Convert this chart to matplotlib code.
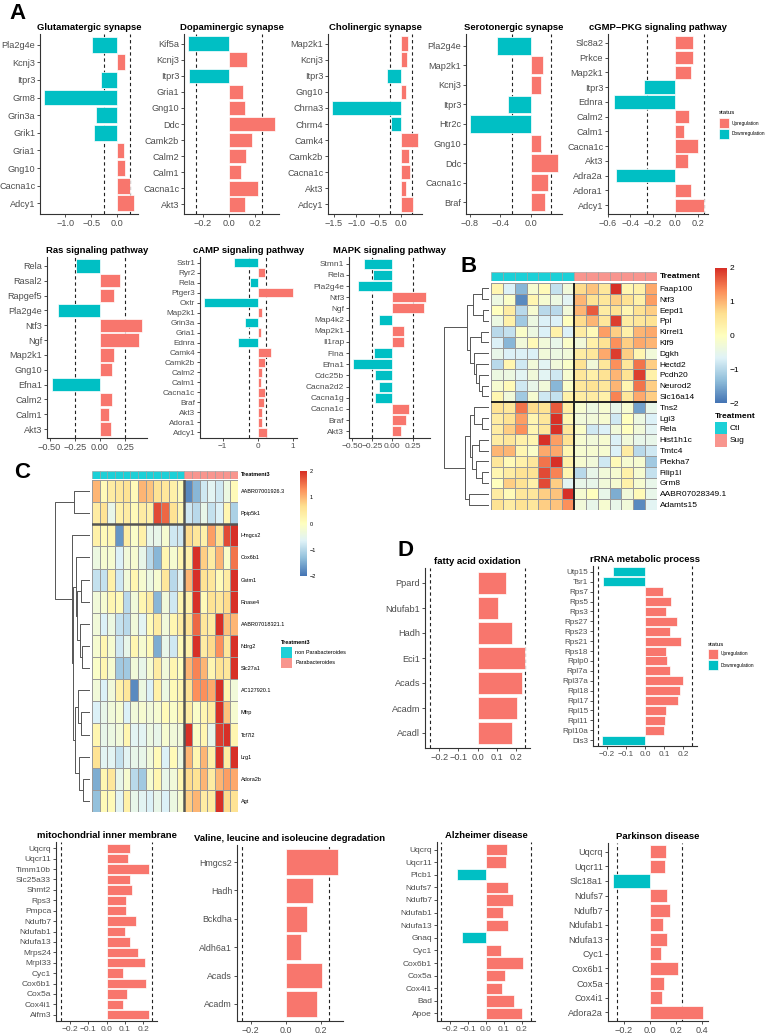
import numpy as np
import matplotlib
matplotlib.use('Agg')
import matplotlib.pyplot as plt
from matplotlib.colors import LinearSegmentedColormap
from matplotlib.patches import Rectangle

plt.rcParams['font.family'] = ['Liberation Sans', 'DejaVu Sans']

W, H = 772, 1035
UP = '#F8766D'
DOWN = '#00BFC4'
CTL = '#1CD0D7'
SUG = '#F8958E'
HM_CMAP = LinearSegmentedColormap.from_list(
    'rdylbu', ['#4575B4', '#91BFDB', '#E0F3F8', '#FFFFBF', '#FEE090', '#FC8D59', '#D73027'])

# ---------------- data: bar panels (genes top to bottom) ----------------
glut_genes = ['Pla2g4e', 'Kcnj3', 'Itpr3', 'Grm8', 'Grin3a', 'Grik1', 'Gria1', 'Gng10', 'Cacna1c', 'Adcy1']
glut_vals = [-0.48, 0.15, -0.32, -1.40, -0.41, -0.45, 0.12, 0.14, 0.24, 0.31]
glut_ticks = [-1.0, -0.5, 0.0]

dopa_genes = ['Kif5a', 'Kcnj3', 'Itpr3', 'Gria1', 'Gng10', 'Ddc', 'Camk2b', 'Calm2', 'Calm1', 'Cacna1c', 'Akt3']
dopa_vals = [-0.31, 0.14, -0.305, 0.11, 0.125, 0.35, 0.175, 0.13, 0.09, 0.22, 0.12]
dopa_ticks = [-0.2, 0.0, 0.2]

chol_genes = ['Map2k1', 'Kcnj3', 'Itpr3', 'Gng10', 'Chrna3', 'Chrm4', 'Camk4', 'Camk2b', 'Cacna1c', 'Akt3', 'Adcy1']
chol_vals = [0.16, 0.13, -0.31, 0.12, -1.54, -0.21, 0.38, 0.18, 0.21, 0.12, 0.27]
chol_ticks = [-1.5, -1.0, -0.5, 0.0]

sero_genes = ['Pla2g4e', 'Map2k1', 'Kcnj3', 'Itpr3', 'Htr2c', 'Gng10', 'Ddc', 'Cacna1c', 'Braf']
sero_vals = [-0.45, 0.15, 0.13, -0.30, -0.79, 0.12, 0.34, 0.21, 0.17]
sero_ticks = [-0.8, -0.4, 0.0]

cgmp_genes = ['Slc8a2', 'Prkce', 'Map2k1', 'Itpr3', 'Ednra', 'Calm2', 'Calm1', 'Cacna1c', 'Akt3',
              'Adra2a', 'Adora1', 'Adcy1']
cgmp_vals = [0.16, 0.16, 0.14, -0.28, -0.55, 0.12, 0.08, 0.20, 0.11, -0.53, 0.14, 0.25]
cgmp_ticks = [-0.6, -0.4, -0.2, 0.0, 0.2]

ras_genes = ['Rela', 'Rasal2', 'Rapgef5', 'Pla2g4e', 'Ntf3', 'Ngf', 'Map2k1', 'Gng10', 'Efna1', 'Calm2',
             'Calm1', 'Akt3']
ras_vals = [-0.24, 0.20, 0.14, -0.42, 0.42, 0.39, 0.14, 0.12, -0.48, 0.12, 0.09, 0.11]
ras_ticks = [-0.5, -0.25, 0.0, 0.25]

camp_genes = ['Sstr1', 'Ryr2', 'Rela', 'Ptger3', 'Oxtr', 'Map2k1', 'Grin3a', 'Gria1', 'Ednra', 'Camk4',
              'Camk2b', 'Calm2', 'Calm1', 'Cacna1c', 'Braf', 'Akt3', 'Adora1', 'Adcy1']
camp_vals = [-0.67, 0.21, -0.22, 1.0, -1.52, 0.14, -0.35, 0.11, -0.55, 0.37, 0.22, 0.13, 0.10, 0.21,
             0.17, 0.12, 0.14, 0.26]
camp_ticks = [-1, 0, 1]

mapk_genes = ['Stmn1', 'Rela', 'Pla2g4e', 'Ntf3', 'Ngf', 'Map4k2', 'Map2k1', 'Il1rap', 'Flna', 'Efna1',
              'Cdc25b', 'Cacna2d2', 'Cacna1g', 'Cacna1c', 'Braf', 'Akt3']
mapk_vals = [-0.35, -0.24, -0.43, 0.42, 0.39, -0.17, 0.145, 0.145, -0.23, -0.49, -0.21, -0.17, -0.21,
             0.21, 0.165, 0.11]
mapk_ticks = [-0.5, -0.25, 0.0, 0.25]

fatty_genes = ['Ppard', 'Ndufab1', 'Hadh', 'Eci1', 'Acads', 'Acadm', 'Acadl']
fatty_vals = [0.15, 0.105, 0.18, 0.25, 0.235, 0.205, 0.18]

rrna_genes = ['Utp15', 'Tsr1', 'Rps7', 'Rps5', 'Rps3', 'Rps27', 'Rps23', 'Rps21', 'Rps18', 'Rplp0',
              'Rpl7a', 'Rpl37a', 'Rpl18', 'Rpl17', 'Rpl15', 'Rpl11', 'Rpl10a', 'Dis3']
rrna_vals = [-0.17, -0.22, 0.097, 0.14, 0.11, 0.17, 0.133, 0.193, 0.11, 0.118, 0.133, 0.20, 0.184,
             0.174, 0.11, 0.104, 0.098, -0.226]

mito_genes = ['Uqcrq', 'Uqcr11', 'Timm10b', 'Slc25a33', 'Shmt2', 'Rps3', 'Pmpca', 'Ndufb7', 'Ndufab1',
              'Ndufa13', 'Mrps24', 'Mrpl33', 'Cyc1', 'Cox6b1', 'Cox5a', 'Cox4i1', 'Aifm3']
mito_vals = [0.126, 0.116, 0.23, 0.128, 0.137, 0.107, 0.105, 0.158, 0.10, 0.13, 0.172, 0.21, 0.088,
             0.216, 0.109, 0.091, 0.23]

val_genes = ['Hmgcs2', 'Hadh', 'Bckdha', 'Aldh6a1', 'Acads', 'Acadm']
val_vals = [0.30, 0.155, 0.12, 0.09, 0.205, 0.18]

alz_genes = ['Uqcrq', 'Uqcr11', 'Plcb1', 'Ndufs7', 'Ndufb7', 'Ndufab1', 'Ndufa13', 'Gnaq', 'Cyc1',
             'Cox6b1', 'Cox5a', 'Cox4i1', 'Bad', 'Apoe']
alz_vals = [0.119, 0.11, -0.165, 0.126, 0.153, 0.095, 0.125, -0.137, 0.084, 0.209, 0.105, 0.088,
            0.158, 0.20]

park_genes = ['Uqcrq', 'Uqcr11', 'Slc18a1', 'Ndufs7', 'Ndufb7', 'Ndufab1', 'Ndufa13', 'Cyc1', 'Cox6b1',
              'Cox5a', 'Cox4i1', 'Adora2a']
park_vals = [0.124, 0.116, -0.284, 0.134, 0.16, 0.10, 0.132, 0.088, 0.22, 0.111, 0.093, 0.413]

d_ticks = [-0.2, -0.1, 0.0, 0.1, 0.2]
d_ticks2 = [-0.2, 0.0, 0.2]
park_ticks = [-0.2, 0.0, 0.2, 0.4]

# ---------------- data: heatmap B ----------------
b_genes = ['Faap100', 'Ntf3', 'Eepd1', 'Ppl', 'Kirrel1', 'Klf9', 'Dgkh', 'Hectd2', 'Pcdh20', 'Neurod2',
           'Slc16a14', 'Tns2', 'Lgi3', 'Rela', 'Hist1h1c', 'Tmtc4', 'Plekha7', 'Filip1l', 'Grm8',
           'AABR07028349.1', 'Adamts15']
b_groups = ['Ctl'] * 7 + ['Sug'] * 7
b_values = [
    [0.2, -0.7, -1.4, -0.2, 0.1, -0.9, -0.3, 0.7, 0.9, 0.5, 2.0, 0.2, 0.3, 1.1],
    [-0.4, -0.1, -1.8, 0.2, -0.2, -0.4, -0.6, 1.0, 0.6, 0.5, 0.8, 0.6, 0.3, 1.2],
    [0.0, 0.4, -1.0, -0.2, -1.0, -1.0, -0.3, 1.0, 1.7, 0.4, 0.6, 0.2, 0.6, 0.8],
    [-0.4, 0.3, -1.2, -0.4, -0.7, -0.7, 0.0, 0.7, 1.0, 0.5, 1.9, 0.4, 0.5, 0.6],
    [-1.0, -0.9, -0.1, -0.4, -0.7, 0.3, -0.7, 0.4, 0.1, 1.2, 0.8, 0.3, 1.0, 1.1],
    [-0.7, -1.4, -0.3, 0.1, -0.3, -0.5, -0.1, -0.3, 0.3, 0.6, 1.3, 0.8, 1.1, 1.0],
    [-0.5, -0.7, -0.7, -0.7, -0.3, -0.4, -0.3, 0.4, 0.5, 1.1, 1.9, 0.8, 0.2, -0.3],
    [-1.0, 0.2, -0.8, -0.3, -0.6, -0.3, -0.1, 0.6, -0.3, 0.5, 1.3, 0.5, 1.5, 0.8],
    [-0.4, -0.4, -0.6, -0.3, -0.6, -0.8, -0.2, 0.5, 0.3, 0.6, 1.0, 0.6, 1.9, 0.3],
    [-0.2, 0.1, -0.8, -0.5, -0.3, -1.4, -0.1, 0.5, 0.6, 0.5, 1.0, 0.2, 1.5, 0.8],
    [0.2, -0.3, -1.2, -0.2, -0.8, -0.9, 0.3, 0.4, 0.4, 0.3, 1.4, 0.5, 1.1, 0.8],
    [0.6, 0.5, 1.5, 0.7, 0.6, 1.7, 0.4, -0.2, -0.4, -0.2, -0.5, -0.2, -1.6, -0.5],
    [0.4, 0.6, 1.2, 0.2, 0.5, 2.0, 0.2, -0.3, -0.3, -0.2, -0.8, 0.0, -0.4, -0.7],
    [0.4, 0.8, 1.3, 0.2, 0.5, 2.0, 0.5, -0.1, -0.8, -0.7, -0.3, 0.0, -0.3, -0.6],
    [0.4, 0.5, 0.3, 0.2, 2.0, 1.2, 0.6, -0.2, -0.3, -0.2, -0.7, -0.3, -0.5, -0.5],
    [1.0, 1.0, 0.2, -0.1, 1.1, 1.1, 0.2, -0.2, -0.2, -0.2, -0.7, 0.4, -1.0, -0.8],
    [0.5, 0.1, 0.3, 0.5, 1.5, 2.0, 0.3, -0.2, -0.3, -0.8, 0.1, -0.2, -0.2, -1.2],
    [0.2, 0.4, 0.6, 0.6, 1.8, 1.4, 0.2, -1.0, -0.5, -0.3, -0.2, 0.3, -0.2, -0.9],
    [0.0, 0.8, 0.6, 0.3, 1.8, 0.8, -0.6, -0.5, -0.5, -0.3, -0.2, 0.3, -0.2, -0.5],
    [0.4, 0.1, 0.5, 0.5, 0.8, 0.9, 2.0, -0.2, 0.0, -0.5, -1.5, -0.3, 0.1, -0.5],
    [0.6, 0.4, 0.6, 0.5, 0.8, 0.9, 1.3, -0.3, -0.5, -0.2, -0.5, -0.3, -1.8, -0.6],
]
# row dendrogram: (height, left, right), leaves are row indices
b_tree = (10,
          (5.0, (3.5, (1.5, 0, 1), (1.3, 2, 3)),
                (4.2, (1.8, 4, 5), (3.4, 6, (2.8, 7, (2.2, 8, (1.5, 9, 10)))))),
          (5.3, (4.3, (3.3, 11, (1.5, 12, 13)), (3.8, (2.2, 14, 15), (3.0, 16, (1.6, 17, 18)))),
                (4.4, 19, 20)))

# ---------------- data: heatmap C ----------------
c_genes = ['AABR07001926.3', 'Ppip5k1', 'Hmgcs2', 'Cox6b1', 'Gstm1', 'Rnase4', 'AABR07018321.1', 'Ndrg2',
           'Slc27a1', 'AC127920.1', 'Mfrp', 'Tcf7l2', 'Lrg1', 'Adora2b', 'Agt']
c_groups = ['non Parabacteroides'] * 12 + ['Parabacteroides'] * 7
c_values = [
    [1.0, 0.1, 0.4, 0.5, 0.6, 0.1, 1.0, 0.9, 0.6, 0.5, 0.3, 0.1, -1.8, -1.4, -0.8, -0.6, -0.8, -0.4, 0.1],
    [0.4, 0.6, -0.5, 0.3, 0.4, 0.1, 0.4, 0.3, 1.8, 1.6, 0.6, 0.2, -0.8, -1.0, -0.5, -0.9, -0.7, 0.2, -1.1],
    [0.3, 0.1, 0.2, -1.7, 0.4, -0.1, 0.3, -0.5, -0.5, -0.2, -0.8, -0.8, 0.7, 0.5, 0.3, 1.2, 0.6, 1.8, 2.0],
    [-0.4, -0.2, -0.2, -0.7, -0.3, -0.2, -0.5, -1.0, -1.4, 0.2, -0.2, 0.2, 0.3, 2.0, 0.8, 0.4, 1.0, -0.1, 1.5],
    [-0.9, -0.9, 0.3, -0.8, -0.3, 0.2, -0.2, -0.4, -0.2, 0.5, -1.0, -0.6, 1.0, 2.0, 0.6, 0.5, 0.1, 0.4, 2.0],
    [-0.3, -0.2, 0.2, 0.1, -1.0, -0.3, 0.2, 0.4, -1.4, -0.3, -0.8, 0.2, 0.3, 2.0, 0.1, 0.6, 0.5, 0.7, 2.0],
    [-0.3, -0.7, -0.4, -0.9, -1.0, -0.3, -0.6, 0.1, 0.4, -0.3, 0.2, 0.4, 0.6, 1.6, 0.5, 0.4, 2.0, 0.9, 1.0],
    [-0.2, 0.2, -0.2, -0.8, -0.5, 0.2, -0.2, 0.1, -1.5, -0.5, -0.8, 0.1, 0.3, 2.0, 0.4, 0.7, 1.3, 0.5, 2.0],
    [-0.1, 0.2, -0.2, -1.2, -1.2, -0.3, -0.5, -0.2, 0.4, -0.3, 0.2, 0.0, 1.0, 1.4, 1.0, 0.2, 0.6, 0.5, 2.0],
    [-0.3, -0.7, -0.3, 0.3, 0.5, -1.8, -0.4, -0.7, 0.3, -0.4, 0.1, 0.2, 0.6, 1.3, 1.3, 1.1, 2.0, 0.2, -0.3],
    [-0.7, -0.5, -0.3, -0.2, -0.7, -0.3, -0.2, -0.3, -0.2, 0.1, -0.1, 0.2, 0.4, -0.1, 0.2, 0.4, 2.0, 0.9, -0.2],
    [0.2, -0.5, -0.4, -0.3, 0.2, -0.6, -0.6, -0.4, -0.5, -0.2, -0.3, -0.3, 2.0, -0.1, 0.2, -0.5, 1.9, 2.0, 0.2],
    [0.6, -0.6, -0.6, -0.9, -0.6, -0.5, -0.5, -0.3, 0.1, -0.7, 0.1, -0.4, 1.0, 0.2, 1.0, 0.3, 2.0, 0.4, 2.0],
    [-1.5, 0.2, 0.5, -0.5, -0.2, -1.0, -1.2, -0.2, 0.2, -0.5, -0.3, 0.2, 0.7, 0.6, 1.0, 0.4, 1.0, 1.2, 1.1],
    [-1.3, 0.1, 0.1, -0.6, 0.3, -0.5, -0.6, -0.7, -0.5, -0.7, -0.4, -0.2, 0.8, 1.0, 0.4, 0.4, 2.0, 0.7, 0.6],
]
c_tree = (10,
          (4.6, 0, 1),
          (5.2, 2, (4.8, (4.0, 3, (3.6, (2.5, 4, 5), (3.0, 6, (2.2, 7, 8)))),
                         (4.2, (3.4, 9, (2.5, 10, 11)), (3.2, 12, (2.0, 13, 14))))))
cbar_ticks = [2, 1, 0, -1, -2]

fig = plt.figure(figsize=(W / 100, H / 100), dpi=100)


def px_axes(x0, y0, x1, y1):
    return fig.add_axes([x0 / W, 1 - y1 / H, (x1 - x0) / W, (y1 - y0) / H])


def fmt(t, nd):
    return f"{t:.{nd}f}".replace('-', '\u2212')


def bar_panel(box, title, genes, vals, ticks, nd=1, fs=6.6, tfs=6.8):
    ax = px_axes(*box)
    n = len(genes)
    y = np.arange(n)[::-1]
    cols = [UP if v > 0 else DOWN for v in vals]
    ax.barh(y, vals, height=0.9, color=cols, edgecolor='white', linewidth=0.5, zorder=2)
    for x in (-0.25, 0.25):
        ax.axvline(x, color='#222222', lw=0.8, ls=(0, (3, 2.5)), zorder=1)
    lo = min(min(vals), -0.25)
    hi = max(max(vals), 0.25)
    pad = (hi - lo) * 0.05
    ax.set_xlim(lo - pad, hi + pad)
    ax.set_ylim(-0.6, n - 0.4)
    ax.set_yticks(y)
    ax.set_yticklabels(genes, fontsize=fs, color='#4D4D4D')
    ax.set_xticks(ticks)
    ax.set_xticklabels([fmt(t, nd) for t in ticks], fontsize=fs, color='#4D4D4D')
    for s in ('top', 'right'):
        ax.spines[s].set_visible(False)
    for s in ('left', 'bottom'):
        ax.spines[s].set_color('#333333')
        ax.spines[s].set_linewidth(0.8)
    ax.tick_params(length=2, width=0.6, color='#333333', pad=1.5)
    ax.set_title(title, fontsize=tfs, fontweight='bold', pad=3)
    return ax


def status_legend(x, y):
    fig.text(x / W, 1 - y / H, 'status', fontsize=4.3, va='center', ha='left')
    for i, (lab, c) in enumerate([('Upregulation', UP), ('Downregulation', DOWN)]):
        yy = y + 5 + i * 11
        fig.patches.append(Rectangle((x / W, 1 - (yy + 10) / H), 10 / W, 10 / H, transform=fig.transFigure,
                                     facecolor=c, edgecolor='white', lw=0.5))
        fig.text((x + 13) / W, 1 - (yy + 5) / H, lab, fontsize=3.4, va='center', ha='left')


def draw_tree(ax, node):
    if isinstance(node, int):
        return node + 0.5, 0.0
    h, l, r = node
    yl, hl = draw_tree(ax, l)
    yr, hr = draw_tree(ax, r)
    ax.plot([hl, h, h, hr], [yl, yl, yr, yr], color='#555555', lw=0.7, solid_capstyle='butt')
    return (yl + yr) / 2, h


def heatmap(box, values, genes, groups, tree, tree_x0, split_row, split_col, ann_y, title, lab_fs,
            cbar_box, split_color, split_lw):
    x0, y0, x1, y1 = box
    data = np.array(values)
    nr, nc = data.shape
    ax = px_axes(x0, y0, x1, y1)
    ax.pcolormesh(np.arange(nc + 1), np.arange(nr + 1), data, cmap=HM_CMAP, vmin=-2, vmax=2,
                  edgecolors='#9A9A9A', linewidth=0.4)
    ax.set_xlim(0, nc)
    ax.set_ylim(nr, 0)
    ax.axhline(split_row, color=split_color, lw=split_lw)
    ax.axvline(split_col, color=split_color, lw=split_lw)
    ax.set_xticks([])
    ax.set_yticks(np.arange(nr) + 0.5)
    ax.set_yticklabels(genes, fontsize=lab_fs)
    ax.yaxis.tick_right()
    ax.tick_params(length=0, pad=2)
    for s in ax.spines.values():
        s.set_visible(False)
    # annotation bar
    aa = px_axes(x0, ann_y[0], x1, ann_y[1])
    for j, g in enumerate(groups):
        aa.add_patch(Rectangle((j, 0), 1, 1, facecolor=CTL if g == groups[0] else SUG,
                               edgecolor='#9A9A9A', lw=0.4))
    aa.set_xlim(0, nc)
    aa.set_ylim(0, 1)
    aa.axis('off')
    fig.text((x1 + 3) / W, 1 - (ann_y[0] + ann_y[1]) / 2 / H, title, fontsize=lab_fs, fontweight='bold',
             va='center', ha='left')
    # dendrogram
    ad = px_axes(tree_x0, y0, x0 - 2, y1)
    draw_tree(ad, tree)
    ad.set_xlim(tree[0], 0)
    ad.set_ylim(nr, 0)
    ad.axis('off')
    # colour legend
    ac = px_axes(*cbar_box)
    grad = np.linspace(-2, 2, 200).reshape(-1, 1)
    ac.imshow(grad, cmap=HM_CMAP, vmin=-2, vmax=2, aspect='auto', origin='lower', extent=[0, 1, -2, 2])
    ac.set_xticks([])
    ac.yaxis.tick_right()
    ac.set_yticks(cbar_ticks)
    ac.set_yticklabels([fmt(t, 0) for t in cbar_ticks], fontsize=lab_fs)
    ac.tick_params(length=0, pad=2)
    for s in ac.spines.values():
        s.set_visible(False)


def group_legend(x, y, title, labels, fs, size):
    fig.text(x / W, 1 - y / H, title, fontsize=fs, fontweight='bold', va='center', ha='left')
    for i, (lab, c) in enumerate(zip(labels, [CTL, SUG])):
        yy = y + 5 + i * size[1]
        fig.patches.append(Rectangle((x / W, 1 - (yy + size[1]) / H), size[0] / W, size[1] / H,
                                     transform=fig.transFigure, facecolor=c, edgecolor='none'))
        fig.text((x + size[0] + 3) / W, 1 - (yy + size[1] / 2) / H, lab, fontsize=fs, va='center', ha='left')


# ---------------- panel A ----------------
bar_panel((40, 34, 138, 214), 'Glutamatergic synapse', glut_genes, glut_vals, glut_ticks)
bar_panel((184, 34, 279, 214), 'Dopaminergic synapse', dopa_genes, dopa_vals, dopa_ticks)
bar_panel((328, 34, 422, 214), 'Cholinergic synapse', chol_genes, chol_vals, chol_ticks)
bar_panel((466, 34, 562, 214), 'Serotonergic synapse', sero_genes, sero_vals, sero_ticks)
bar_panel((608, 34, 708, 214), 'cGMP\u2212PKG signaling pathway', cgmp_genes, cgmp_vals, cgmp_ticks)
status_legend(719, 113)

bar_panel((47, 257, 147, 438), 'Ras signaling pathway', ras_genes, ras_vals, ras_ticks, nd=2)
bar_panel((200, 257, 297, 438), 'cAMP signaling pathway', camp_genes, camp_vals, camp_ticks, nd=0, fs=5.9)
bar_panel((349, 257, 430, 438), 'MAPK signaling pathway', mapk_genes, mapk_vals, mapk_ticks, nd=2, fs=6.0)

# ---------------- panel B ----------------
heatmap((491, 283, 657, 510), b_values, b_genes, b_groups, b_tree, 444, 11, 7, (272, 281), 'Treatment', 6.0,
        (715, 268, 727, 403), '#222222', 1.4)
group_legend(715, 417, 'Treatment', ['Ctl', 'Sug'], 6.0, (12, 12.5))

# ---------------- panel C ----------------
heatmap((92, 480, 238, 812), c_values, c_genes, c_groups, c_tree, 55, 2, 12, (471, 479), 'Treatment3', 4.0,
        (300, 471, 307, 576), '#555555', 1.8)
group_legend(281, 642, 'Treatment3', ['non Parabacteroides', 'Parabacteroides'], 4.0, (11, 10.5))

# ---------------- panel D ----------------
bar_panel((425, 568, 530, 748), 'fatty acid oxidation', fatty_genes, fatty_vals, d_ticks)
bar_panel((593, 566, 697, 746), 'rRNA metabolic process', rrna_genes, rrna_vals, d_ticks, fs=5.9)
status_legend(708, 644)
bar_panel((56, 842, 157, 1021), 'mitochondrial inner membrane', mito_genes, mito_vals, d_ticks, fs=6.0)
bar_panel((237, 845, 343, 1021), 'Valine, leucine and isoleucine degradation', val_genes, val_vals, d_ticks2,
          fs=6.4)
bar_panel((437, 842, 535, 1021), 'Alzheimer disease', alz_genes, alz_vals, d_ticks, fs=6.0)
bar_panel((608, 843, 708, 1021), 'Parkinson disease', park_genes, park_vals, park_ticks)

for lab, x, y in [('A', 9, 19), ('B', 461, 272), ('C', 14, 478), ('D', 397, 556)]:
    fig.text(x / W, 1 - y / H, lab, fontsize=16, fontweight='bold', va='baseline', ha='left')

fig.savefig('out.png', dpi=100)
